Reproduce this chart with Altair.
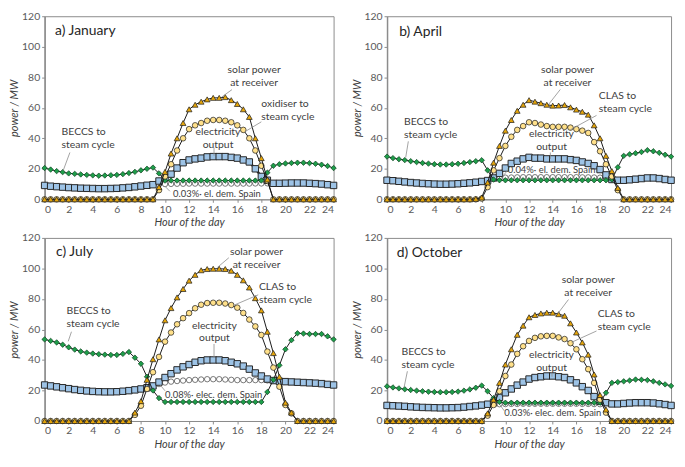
import altair as alt
import pandas as pd

hours = [i * 0.5 for i in range(49)]

# ---------------- January ----------------
solar_jan = [0] * 19 + [8, 18, 30, 40, 50, 59, 62, 64, 65.5, 66.5, 66.5, 67, 65, 62.5, 59, 54, 40, 27, 13] + [0] * 11
clas_jan = [0] * 19 + [6, 15, 23, 32, 40, 46, 48.5, 50, 51.5, 52, 52, 51.5, 50.5, 48.5, 45.5, 40, 32, 22, 12] + [0] * 11
elec_jan = [9.1, 8.6, 8.3, 8, 7.7, 7.5, 7.3, 7.2, 7.1, 7, 7, 7.1, 7.2, 7.5, 7.8, 8.2, 8.7, 9.2, 9.6,
            12, 14, 16.5, 20.5, 24, 25.8, 26.5, 27, 27.8, 28, 28, 28, 27.5, 27, 25.8, 24.5, 20, 15, 12.5,
            10.5, 10.5, 10.6, 10.7, 10.7, 10.7, 10.5, 10.3, 10, 9.6, 9.1]
beccs_jan = [20.5, 19.5, 18.5, 17.8, 17, 16.7, 16.3, 16, 15.7, 15.5, 15.6, 15.8, 16, 16.5, 17.2, 18, 19, 20, 20.8,
             17] + [12.3] * 17 + [17.5,
             22, 23, 23.5, 23.8, 24, 24, 23.7, 23.3, 22.7, 21.8, 20.5]
dem_hours_jan = [9.5 + 0.5 * i for i in range(19)]
dem_jan = [10, 10, 10.1, 10.2, 10.2, 10.3, 10.3, 10.3, 10.3, 10.3, 10.3, 10.3, 10.3, 10.3, 10.3, 10.3, 10.4, 10.4, 10.5]

# ---------------- April ----------------
solar_apr = [0] * 15 + [0.3, 1.2, 11, 24, 35, 45, 52, 58, 62, 65, 64, 63, 62, 61.4, 61.5, 61.8, 60.3, 58.8, 57.4, 55.5,
                        48.5, 40, 28.5, 18.5, 7.5, 0] + [0] * 8
clas_apr = [0] * 15 + [0, 0.5, 8, 19, 27, 35, 41, 45.5, 48, 50.5, 50, 49, 48, 47.5, 47.5, 47.5, 47, 46, 45, 43.5,
                       37.5, 31.5, 23, 15, 6, 0] + [0] * 8
elec_apr = [12.5, 12.2, 11.8, 11.4, 11, 10.7, 10.4, 10.2, 10, 9.9, 9.9, 10, 10.2, 10.5, 10.8, 11.2, 11.7, 12.3,
            14, 17, 20.5, 23.5, 25, 26.5, 27.5, 27, 27, 26.5, 26.5, 26.5, 26.5, 26, 25.5, 24.5, 23.5, 22, 19.5, 16, 13,
            12.5, 12.5, 12.8, 13.2, 13.6, 14, 14, 13.6, 13, 12.5]
beccs_apr = [28, 27, 26.3, 25.7, 25, 24.4, 23.8, 23.4, 23, 22.8, 22.8, 23, 23.3, 23.8, 24.4, 25, 25.6,
             19, 13] + [12.5] * 19 + [13, 21, 28.5, 29.5, 30.2, 31, 32.2, 31.5, 30.5, 29.2, 28]
dem_hours_apr = [9 + 0.5 * i for i in range(21)]
dem_apr = [13.5, 14, 14.2, 14.3, 14.4, 14.5, 14.5, 14.5, 14.5, 14.5, 14.5, 14.5, 14.5, 14.5, 14.5, 14.4, 14.4, 14.3,
           14.2, 14, 13.8]

# ---------------- July ----------------
solar_jul = [0] * 15 + [5.5, 13, 27, 40.5, 53.5, 66, 74, 81, 86.5, 92, 95.8, 98.8, 99.6, 99.8, 99.8, 99.6, 98.5, 95.8,
                        92.2, 87.5, 80.5, 72.5, 58.5, 44.5, 29, 12, 5.5, 0] + [0] * 6
clas_jul = [0] * 15 + [4, 10, 21, 32, 42, 52, 58, 63.4, 67.4, 70.7, 73.9, 76.2, 77.3, 77.5, 77.5, 77, 76, 74.3,
                       70.8, 66.5, 62, 56.4, 45.5, 35, 22.5, 10.5, 5, 0] + [0] * 6
elec_jul = [23.6, 23, 22.4, 21.8, 21.2, 20.6, 20.1, 19.7, 19.4, 19.2, 19.1, 19.1, 19.2, 19.5, 19.9, 20.4, 21, 21.8, 23,
            25.5, 28.5, 31, 33.5, 35.5, 37, 38.5, 39.5, 40, 40, 40, 39.5, 38.5, 37.5, 36, 34, 31.5, 29.5, 27.5, 26.5,
            26, 25.8, 25.6, 25.4, 25.2, 25, 24.8, 24.5, 24, 23.6]
beccs_jul = [53.5, 52.5, 51.5, 50, 48.3, 46.8, 45.6, 44.8, 44.2, 43.8, 43.5, 43.3, 43.3, 44, 45.2,
             41.5, 37.5, 29, 20, 15] + [12.5] * 17 + [19, 27, 36.5, 47, 53, 57.5, 57.3, 57, 57, 57, 55.5, 53.5]
dem_hours_jul = [9 + 0.5 * i for i in range(22)]
dem_jul = [23, 24.2, 25.2, 25.8, 26.2, 26.5, 26.8, 27, 27.2, 27.4, 27.4, 27.4, 27.2, 27, 26.8, 26.8, 26.8, 26.8,
           26.8, 26.6, 26.4, 26.2]

# ---------------- October ----------------
solar_oct = [0] * 17 + [5, 14, 25, 37, 47, 56.5, 62.5, 68, 69.5, 70.5, 71, 71, 70, 69, 64, 58, 51.5, 43.5, 30.5, 17,
                        7.5] + [0] * 11
clas_oct = [0] * 17 + [3.5, 10.5, 19.5, 29.5, 37, 44, 49, 52.5, 54.5, 55.5, 55.8, 55.8, 54.8, 53.7, 51, 47, 40.5, 34,
                       25, 14, 5.5] + [0] * 11
elec_oct = [10.2, 10, 9.8, 9.6, 9.3, 9.1, 8.9, 8.8, 8.7, 8.6, 8.6, 8.7, 8.8, 9.1, 9.5, 9.9, 10.4, 11, 12,
            15.5, 18.5, 21, 23.5, 25.5, 27.5, 28.5, 29, 29.5, 29.5, 29, 28.5, 27, 25, 22.5, 20, 16, 13, 12,
            11.2, 11.2, 11.5, 11.8, 12, 12, 12, 11.8, 11.3, 10.8, 10.2]
beccs_oct = [22.7, 22, 21.4, 20.8, 20.3, 19.9, 19.5, 19.2, 19, 18.9, 18.9, 19, 19.3, 19.9, 20.7, 21.8, 23.2,
             19.5, 15, 12.5] + [12] * 17 + [18.5, 25, 25.5, 26, 26.5, 27.2, 27, 26.8, 26, 25, 24, 23]
dem_hours_oct = [9.5 + 0.5 * i for i in range(18)]
dem_oct = [11, 11.1, 11.2, 11.2, 11.3, 11.3, 11.3, 11.3, 11.3, 11.3, 11.3, 11.3, 11.3, 11.3, 11.2, 11.2, 11.1, 11]

# ---------------- annotations (data units) ----------------
titles = ["a) January", "b) April", "c) July", "d) October"]
title_pos = [(0.87, 108), (1.03, 107.3), (0.95, 108), (0.83, 107.4)]
clas_names = ["oxidiser to\nsteam cycle", "CLAS to\nsteam cycle", "CLAS to\nsteam cycle", "CLAS to\nsteam cycle"]
dem_names = ["0.03%\u00b7 el. dem. Spain", "0.04%\u00b7 el. dem. Spain",
             "0.08%\u00b7 elec. dem. Spain", "0.03%\u00b7 elec. dem. Spain"]
solar_pos = [(17.4, 82.5), (15.25, 82.5), (17.6, 109), (17.0, 90.5)]
clas_pos = [(18.0, 60.3), (17.9, 65.6), (17.8, 85.9), (17.8, 68.4)]
elec_pos = [(14.4, 42.3), (13.9, 40.8), (14.1, 60.6), (13.9, 41.5)]
beccs_pos = [(1.41, 42.3), (1.44, 48.7), (1.82, 70.1), (1.22, 43.2)]
dem_pos = [(10.67, 1.5), (10.2, 17), (10.0, 15.4), (9.9, 3.2)]
leaders = [
    [(15.56, 71.9, 14.7, 67), (18.0, 50.8, 16.65, 44.4), (14.07, 33.9, 14.07, 28.6), (2.1, 30.7, 1.55, 19), (10.4, 5.3, 10.0, 8.5)],
    [(14.64, 72, 13.67, 62.4), (17.7, 55, 15.47, 45.5), (13.8, 30.7, 13.8, 26.5), (1.8, 38, 1.58, 27.5), (10.2, 19, 9.8, 15.4)],
    [(15.3, 107, 14.34, 100.6), (17.74, 82.7, 15.7, 75.8), (14.07, 50.5, 14.07, 41.7), (2.23, 58.5, 1.96, 52.2), (10.0, 19.8, 9.6, 23.6)],
    [(15.33, 79.6, 14.44, 70.5), (17.7, 59, 15.6, 51.6), (13.94, 32, 13.94, 29), (1.72, 32.6, 1.44, 22), (9.9, 6.7, 9.55, 10.5)],
]

months = [
    (solar_jan, clas_jan, elec_jan, beccs_jan, dem_hours_jan, dem_jan),
    (solar_apr, clas_apr, elec_apr, beccs_apr, dem_hours_apr, dem_apr),
    (solar_jul, clas_jul, elec_jul, beccs_jul, dem_hours_jul, dem_jul),
    (solar_oct, clas_oct, elec_oct, beccs_oct, dem_hours_oct, dem_oct),
]

FONT = "Lato"
TXT = "#404040"


def panel(i, width, height):
    solar, clas, elec, beccs, dh, dv = months[i]
    X = alt.X("x:Q", scale=alt.Scale(domain=[0, 24], nice=False),
              axis=alt.Axis(values=list(range(0, 25, 2)), title="Hour of the day"))
    Y = alt.Y("y:Q", scale=alt.Scale(domain=[0, 120], nice=False),
              axis=alt.Axis(values=list(range(0, 121, 20)), title="power / MW"))

    def series(vals, xs, line_color, line_w, shape, fill, stroke, size, sw=0.7):
        df = pd.DataFrame({"x": xs, "y": vals})
        return alt.Chart(df).mark_line(
            color=line_color, strokeWidth=line_w,
            point=alt.OverlayMarkDef(shape=shape, filled=True, fill=fill, stroke=stroke,
                                     strokeWidth=sw, size=size, opacity=1)
        ).encode(x=X, y=Y)

    layers = [
        series(dv, dh, "#7f7f7f", 1, "circle", "white", "#404040", 30),
        series(elec, hours, "#262626", 2.4, "square", "#9dc3e6", "#262626", 42, 1),
        series(beccs, hours, "#1a1a1a", 1, "diamond", "#1e9e4a", "#0d3d1d", 30),
        series(clas, hours, "#1a1a1a", 1, "circle", "#ffe08a", "#1a1a1a", 32),
        series(solar, hours, "#1a1a1a", 1, "triangle-up", "#e5a50a", "#1a1a1a", 34),
    ]

    lead = pd.DataFrame(leaders[i], columns=["x", "y", "x2", "y2"])
    layers.append(alt.Chart(lead).mark_rule(color="#8c8c8c", strokeWidth=0.8).encode(
        x=X, y=Y, x2="x2:Q", y2="y2:Q"))

    left_txt = pd.DataFrame({
        "x": [beccs_pos[i][0], clas_pos[i][0], dem_pos[i][0]],
        "y": [beccs_pos[i][1], clas_pos[i][1], dem_pos[i][1]],
        "t": ["BECCS to\nsteam cycle", clas_names[i], dem_names[i]],
        "s": [10.5, 10.5, 9.5],
    })
    layers.append(alt.Chart(left_txt).mark_text(
        align="left", baseline="alphabetic", lineBreak="\n", lineHeight=13,
        font=FONT, color=TXT).encode(x=X, y=Y, text="t:N", size=alt.Size("s:Q", scale=None, legend=None)))

    center_txt = pd.DataFrame({
        "x": [solar_pos[i][0], elec_pos[i][0]],
        "y": [solar_pos[i][1], elec_pos[i][1]],
        "t": ["solar power\nat receiver", "electricity\noutput"],
    })
    layers.append(alt.Chart(center_txt).mark_text(
        align="center", baseline="alphabetic", lineBreak="\n", lineHeight=13,
        font=FONT, fontSize=10.5, color=TXT).encode(x=X, y=Y, text="t:N"))

    ttl = pd.DataFrame({"x": [title_pos[i][0]], "y": [title_pos[i][1]], "t": [titles[i]]})
    layers.append(alt.Chart(ttl).mark_text(
        align="left", baseline="alphabetic", font=FONT, fontSize=14, color="#262626").encode(
        x=X, y=Y, text="t:N"))

    return alt.layer(*layers).properties(width=width, height=height)


H = 185
row1 = alt.hconcat(panel(0, 292, H), panel(1, 287, H), spacing=11)
row2 = alt.hconcat(panel(2, 292, H), panel(3, 287, H), spacing=11)
chart = alt.vconcat(row1, row2, spacing=4).properties(padding=0).configure_view(
    stroke="#8c8c8c", strokeWidth=1
).configure_axis(
    grid=False, labelFont=FONT, labelFontSize=10.5, labelColor="#595959",
    titleFont=FONT, titleFontSize=11, titleFontStyle="italic", titleFontWeight="normal",
    titleColor=TXT, tickColor="#8c8c8c", domainColor="#8c8c8c", tickSize=3, labelPadding=2,
    titlePadding=2
).configure_axisY(domainWidth=1.5)

chart.save("out.html", embed_options={"renderer": "svg", "actions": False})
